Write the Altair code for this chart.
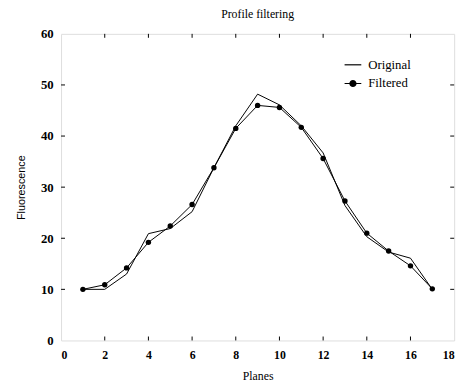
import altair as alt
import pandas as pd

planes = list(range(1, 18))
original = [10.0, 10.0, 13.0, 20.9, 21.9, 25.2, 33.8, 42.0, 48.2, 46.1, 42.0, 36.7, 26.4, 20.3, 17.3, 16.1, 10.0]
filtered = [10.0, 10.9, 14.2, 19.2, 22.4, 26.6, 33.8, 41.5, 46.0, 45.6, 41.7, 35.6, 27.3, 21.0, 17.5, 14.6, 10.1]
series_names = ["Original", "Filtered"]
x_ticks = [2, 4, 6, 8, 10, 12, 14, 16]
y_ticks = [10, 20, 30, 40, 50]
x_labels = [0, 2, 4, 6, 8, 10, 12, 14, 16, 18]
y_labels = [0, 10, 20, 30, 40, 50, 60]

W, H = 400, 312
SERIF = "Liberation Serif"

df = pd.DataFrame({
    "plane": planes * 2,
    "value": original + filtered,
    "series": ["Original"] * len(planes) + ["Filtered"] * len(planes),
})
dff = df[df.series == "Filtered"]
xt = pd.DataFrame({"t": x_ticks})
yt = pd.DataFrame({"t": y_ticks})

xs = alt.Scale(domain=[0, 18], nice=False)
ys = alt.Scale(domain=[0, 60], nice=False)

xaxis = alt.Axis(values=x_labels, title="Planes", grid=False, ticks=False, domain=False,
                 labelFont=SERIF, labelFontWeight="bold", labelFontSize=12, labelPadding=9,
                 titleFont=SERIF, titleFontWeight="normal", titleFontSize=12, titlePadding=11,
                 labelColor="black", titleColor="black")
yaxis = alt.Axis(values=y_labels, title="Fluorescence", grid=False, ticks=False, domain=False,
                 labelFont=SERIF, labelFontWeight="bold", labelFontSize=13, labelPadding=8,
                 titleFont="Liberation Sans", titleFontWeight="normal", titleFontSize=11, titlePadding=14,
                 labelColor="black", titleColor="black")

lines = alt.Chart(df).mark_line(strokeWidth=1).encode(
    x=alt.X("plane:Q", scale=xs, axis=xaxis),
    y=alt.Y("value:Q", scale=ys, axis=yaxis),
    color=alt.Color("series:N", scale=alt.Scale(domain=series_names, range=["black", "black"]), legend=None),
)

dots = alt.Chart(dff).mark_point(filled=True, size=30, color="black", opacity=1).encode(
    x=alt.X("plane:Q", scale=xs),
    y=alt.Y("value:Q", scale=ys),
)

line_path = "M-1,0L1,0"
dot_path = ("M-1,0L1,0"
            "M-0.36,0A0.36,0.36,0,1,1,0.36,0A0.36,0.36,0,1,1,-0.36,0Z"
            "M-0.26,0A0.26,0.26,0,1,1,0.26,0A0.26,0.26,0,1,1,-0.26,0Z"
            "M-0.16,0A0.16,0.16,0,1,1,0.16,0A0.16,0.16,0,1,1,-0.16,0Z"
            "M-0.07,0A0.07,0.07,0,1,1,0.07,0A0.07,0.07,0,1,1,-0.07,0Z")
legend_layer = alt.Chart(df).transform_filter("false").mark_point(
    filled=False, stroke="black", strokeWidth=1, opacity=1
).encode(
    x=alt.X("plane:Q", scale=xs),
    y=alt.Y("value:Q", scale=ys),
    shape=alt.Shape("series:N", scale=alt.Scale(domain=series_names, range=[line_path, dot_path]),
                    legend=alt.Legend(title=None, orient="none", legendX=287.5, legendY=22, padding=0,
                                      symbolSize=289, symbolStrokeColor="black",
                                      symbolStrokeWidth=1.2, symbolOpacity=1, labelFont=SERIF, labelFontSize=13,
                                      labelOffset=6, rowPadding=2, labelColor="black")),
)

tick_bottom = alt.Chart(xt).mark_rule(color="black", strokeWidth=1).encode(
    x=alt.X("t:Q", scale=xs), y=alt.value(H), y2=alt.value(H - 4))
tick_top = alt.Chart(xt).mark_rule(color="black", strokeWidth=1).encode(
    x=alt.X("t:Q", scale=xs), y=alt.value(0), y2=alt.value(4))
tick_left = alt.Chart(yt).mark_rule(color="black", strokeWidth=1).encode(
    y=alt.Y("t:Q", scale=ys), x=alt.value(0), x2=alt.value(4))
tick_right = alt.Chart(yt).mark_rule(color="black", strokeWidth=1).encode(
    y=alt.Y("t:Q", scale=ys), x=alt.value(W), x2=alt.value(W - 4))

chart = alt.layer(
    tick_bottom, tick_top, tick_left, tick_right, lines, dots, legend_layer
).resolve_scale(color="independent", shape="independent").properties(
    width=W, height=H,
    title=alt.Title("Profile filtering", font=SERIF, fontSize=12, fontWeight="normal", color="black",
                    frame="group", offset=7),
    autosize=alt.AutoSizeParams(type="none"),
    padding={"left": 54, "top": 23, "right": 9, "bottom": 41},
).configure_view(stroke="black", strokeWidth=1.5).configure(background="white")

chart.save("out.html", embed_options={"renderer": "svg", "actions": False})
